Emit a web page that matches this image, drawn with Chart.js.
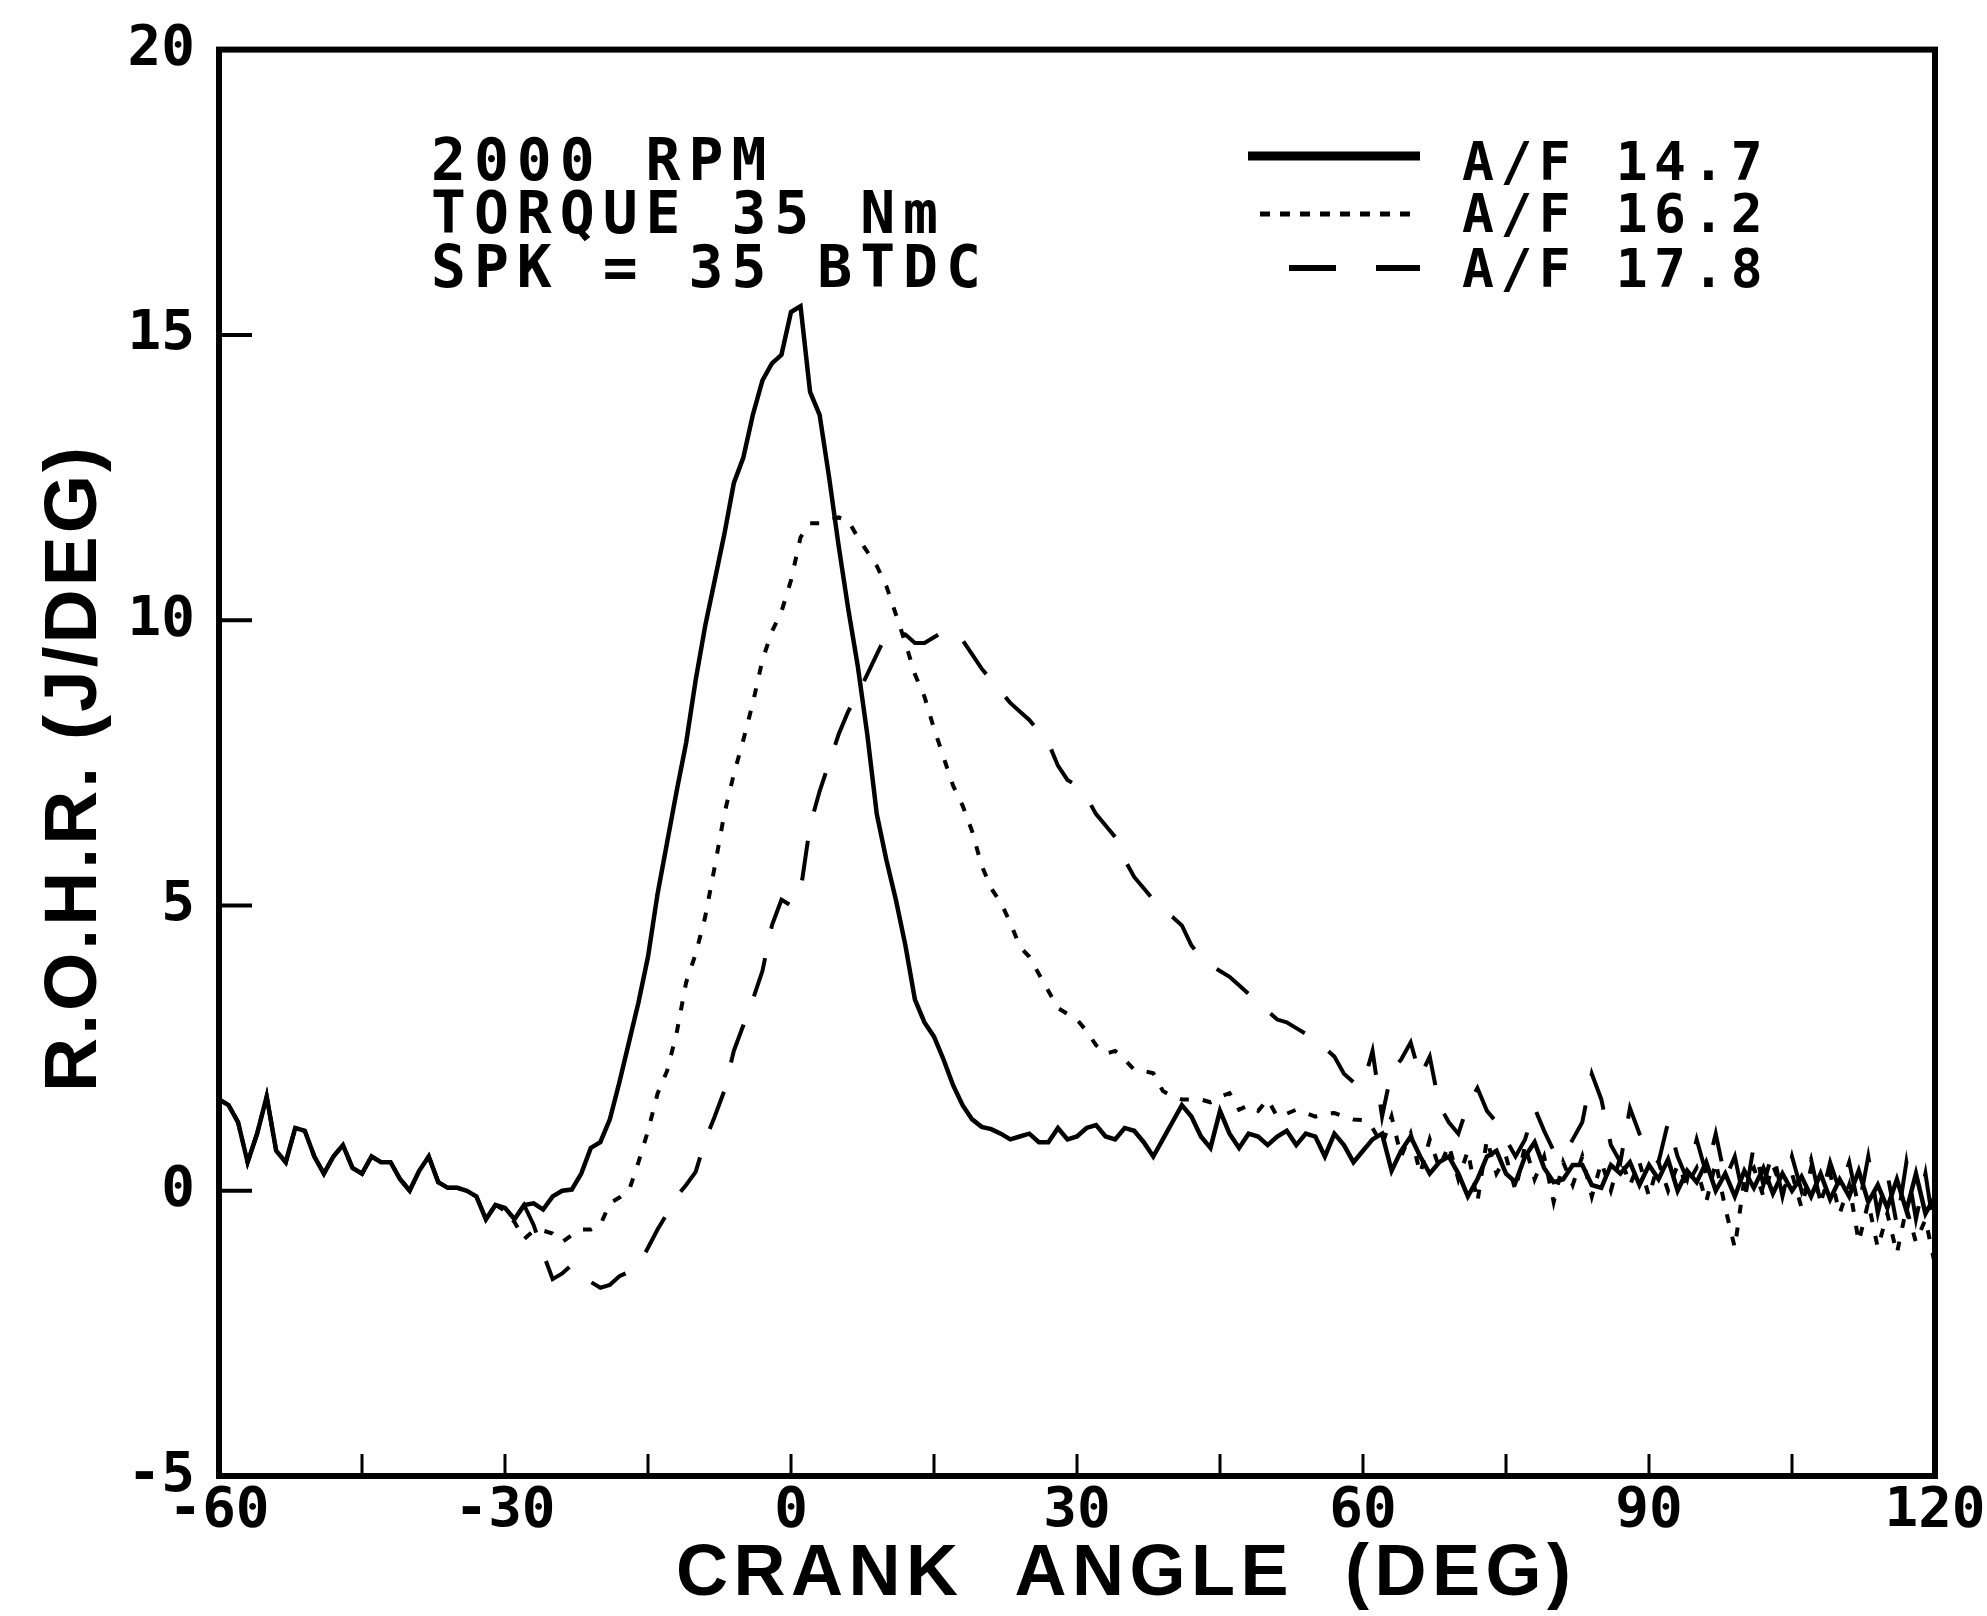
<!DOCTYPE html>
<html lang="en">
<head>
<meta charset="UTF-8">
<title>R.O.H.R. vs Crank Angle</title>
<script src="https://cdn.jsdelivr.net/npm/chart.js"></script>
<style>
    html, body { margin: 0; padding: 0; background: #fff; }
    .chart-box { width: 1987px; height: 1616px; position: relative; }
</style>
</head>
<body>
<div class="chart-box">
    <canvas id="rohrChart"></canvas>
</div>
<script>
    // crank angle (deg), one reading per degree
    var crankAngle = [
        -60, -59, -58, -57, -56, -55, -54, -53, -52, -51,
        -50, -49, -48, -47, -46, -45, -44, -43, -42, -41,
        -40, -39, -38, -37, -36, -35, -34, -33, -32, -31,
        -30, -29, -28, -27, -26, -25, -24, -23, -22, -21,
        -20, -19, -18, -17, -16, -15, -14, -13, -12, -11,
        -10, -9, -8, -7, -6, -5, -4, -3, -2, -1,
        0, 1, 2, 3, 4, 5, 6, 7, 8, 9,
        10, 11, 12, 13, 14, 15, 16, 17, 18, 19,
        20, 21, 22, 23, 24, 25, 26, 27, 28, 29,
        30, 31, 32, 33, 34, 35, 36, 37, 38, 39,
        40, 41, 42, 43, 44, 45, 46, 47, 48, 49,
        50, 51, 52, 53, 54, 55, 56, 57, 58, 59,
        60, 61, 62, 63, 64, 65, 66, 67, 68, 69,
        70, 71, 72, 73, 74, 75, 76, 77, 78, 79,
        80, 81, 82, 83, 84, 85, 86, 87, 88, 89,
        90, 91, 92, 93, 94, 95, 96, 97, 98, 99,
        100, 101, 102, 103, 104, 105, 106, 107, 108, 109,
        110, 111, 112, 113, 114, 115, 116, 117, 118, 119,
        120
    ];

    // R.O.H.R. (J/deg), A/F 14.7 - solid
    var rohrAF147 = [
        1.6, 1.5, 1.2, 0.5, 1.0, 1.65, 0.7, 0.5, 1.1, 1.05,
        0.6, 0.3, 0.6, 0.8, 0.4, 0.3, 0.6, 0.5, 0.5, 0.2,
        0.0, 0.35, 0.6, 0.15, 0.05, 0.05, 0.0, -0.1, -0.5, -0.25,
        -0.3, -0.5, -0.25, -0.22, -0.33, -0.1, 0.0, 0.02, 0.3, 0.75,
        0.85, 1.25, 1.9, 2.6, 3.3, 4.1, 5.2, 6.1, 7.0, 7.85,
        8.95, 9.9, 10.7, 11.5, 12.4, 12.85, 13.6, 14.2, 14.5, 14.65,
        15.4, 15.5, 14.0, 13.6, 12.5, 11.3, 10.2, 9.2, 8.0, 6.6,
        5.8, 5.1, 4.3, 3.35, 2.95, 2.7, 2.3, 1.85, 1.5, 1.25,
        1.12, 1.08, 1.0, 0.9, 0.95, 1.0, 0.85, 0.85, 1.1, 0.9,
        0.95, 1.1, 1.15, 0.95, 0.9, 1.1, 1.05, 0.85, 0.6, 0.9,
        1.2, 1.5, 1.3, 0.95, 0.75, 1.4, 1.0, 0.75, 1.0, 0.95,
        0.8, 0.95, 1.05, 0.8, 1.0, 0.95, 0.6, 1.0, 0.8, 0.5,
        0.7, 0.9, 1.0, 0.35, 0.7, 0.95, 0.6, 0.3, 0.5, 0.6,
        0.3, -0.1, 0.2, 0.6, 0.7, 0.3, 0.15, 0.6, 0.85, 0.4,
        0.15, 0.2, 0.45, 0.45, 0.1, 0.05, 0.45, 0.3, 0.5, 0.1,
        0.45, 0.2, 0.55, 0.0, 0.35, 0.15, 0.5, 0.0, 0.3, -0.1,
        0.35, 0.05, 0.4, -0.05, 0.3, 0.0, 0.25, -0.1, 0.3, -0.15,
        0.2, -0.1, 0.35, -0.2, 0.1, -0.3, 0.2, -0.35, 0.3, -0.4,
        -0.1
    ];

    // A/F 16.2 - dotted
    var rohrAF162 = [
        1.6, 1.5, 1.2, 0.5, 1.0, 1.65, 0.7, 0.5, 1.1, 1.05,
        0.6, 0.3, 0.6, 0.8, 0.4, 0.3, 0.6, 0.5, 0.5, 0.2,
        0.0, 0.35, 0.6, 0.15, 0.05, 0.05, 0.0, -0.1, -0.5, -0.25,
        -0.35, -0.55, -0.85, -0.7, -0.7, -0.75, -0.9, -0.78, -0.68, -0.68,
        -0.6, -0.22, -0.12, 0.0, 0.5, 1.05, 1.7, 2.1, 2.76, 3.65,
        4.15, 4.8, 5.68, 6.6, 7.3, 7.9, 8.55, 9.3, 9.8, 10.15,
        10.7, 11.45, 11.7, 11.7, 11.75, 11.8, 11.75, 11.45, 11.2, 10.95,
        10.6, 10.1, 9.6, 9.05, 8.66, 8.1, 7.6, 7.1, 6.75, 6.3,
        5.7, 5.3, 5.05, 4.7, 4.28, 4.1, 3.8, 3.5, 3.2, 3.1,
        3.0, 2.8, 2.55, 2.4, 2.45, 2.3, 2.12, 2.1, 2.06, 1.75,
        1.65, 1.6, 1.6, 1.6, 1.55, 1.65, 1.71, 1.42, 1.5, 1.4,
        1.6, 1.3, 1.35, 1.42, 1.36, 1.3, 1.35, 1.36, 1.3, 1.25,
        1.24, 1.1, 0.8, 1.3, 0.6, 1.0, 0.3, 0.9, 0.4, 0.8,
        0.2, 0.7, -0.2, 0.9, 0.3, 0.6, 0.0, 0.8, 0.2, 0.6,
        -0.2, 0.5, 0.1, 0.6, -0.1, 0.5, 0.0, 0.6, 0.1, 0.5,
        -0.1, 0.5, 0.0, 0.45, 0.1, 0.4, -0.2, 0.5, -0.3, -1.0,
        0.2, 0.4, -0.1, 0.45, 0.0, 0.3, -0.3, 0.4, -0.2, 0.3,
        -0.4, 0.1, -0.9, -0.2, -1.0, -0.4, -1.1, -0.3, -0.9, -0.5,
        -1.3
    ];

    // A/F 17.8 - dashed
    var rohrAF178 = [
        1.6, 1.5, 1.2, 0.5, 1.0, 1.65, 0.7, 0.5, 1.1, 1.05,
        0.6, 0.3, 0.6, 0.8, 0.4, 0.3, 0.6, 0.5, 0.5, 0.2,
        0.0, 0.35, 0.6, 0.15, 0.05, 0.05, 0.0, -0.1, -0.5, -0.25,
        -0.3, -0.5, -0.25, -0.6, -1.1, -1.55, -1.45, -1.3, -1.5, -1.6,
        -1.7, -1.65, -1.5, -1.42, -1.3, -1.0, -0.68, -0.4, -0.1, 0.1,
        0.33, 0.88, 1.3, 1.75, 2.45, 2.9, 3.35, 3.85, 4.65, 5.1,
        5.0, 5.25, 6.4, 7.0, 7.5, 8.0, 8.4, 8.7, 9.05, 9.4,
        9.75, 9.8, 9.75, 9.6, 9.6, 9.7, 9.8, 9.8, 9.65, 9.4,
        9.15, 8.95, 8.75, 8.55, 8.4, 8.25, 8.05, 7.85, 7.45, 7.2,
        7.1, 6.9, 6.6, 6.4, 6.2, 5.8, 5.5, 5.3, 5.1, 4.9,
        4.8, 4.65, 4.3, 4.1, 3.95, 3.85, 3.75, 3.6, 3.45, 3.3,
        3.15, 3.0, 2.95, 2.85, 2.75, 2.6, 2.5, 2.35, 2.05, 1.9,
        1.85, 2.45, 1.3, 2.1, 2.3, 2.6, 2.0, 2.35, 1.5, 1.2,
        1.0, 1.5, 1.8, 1.4, 1.2, 0.9, 0.6, 0.9, 1.45, 1.05,
        0.7, 0.6, 0.9, 1.2, 2.05, 1.6, 0.8, 0.5, 1.45, 1.0,
        0.7, 0.5, 1.2, 0.6, 0.2, 0.9, 0.3, 1.0, 0.2, 0.6,
        -0.2, 0.8, 0.1, 0.7, -0.1, 0.6, 0.0, 0.55, -0.2, 0.5,
        0.0, 0.5, -0.3, 0.6, -0.4, 0.3, -0.6, 0.5, -0.5, 0.3,
        -0.8
    ];

    var xTickLabels = [-60, -30, 0, 30, 60, 90, 120];
    var yTickLabels = [-5, 0, 5, 10, 15, 20];
    var xTickMarks = [-45, -30, -15, 0, 15, 30, 45, 60, 75, 90, 105];
    var yTickMarks = [0, 5, 10, 15];
    var seriesLabels = ['A/F 14.7', 'A/F 16.2', 'A/F 17.8'];
    var noteLines = ['2000 RPM', 'TORQUE 35 Nm', 'SPK = 35 BTDC'];

    function toPoints(values) {
        return crankAngle.map(function (a, i) { return { x: a, y: values[i] }; });
    }

    // draws the box, inward ticks, titles, notes and the legend
    var plotDecor = {
        id: 'plotDecor',
        afterDatasetsDraw: function (chart) {
            var ctx = chart.ctx;
            var a = chart.chartArea;
            var xs = chart.scales.x;
            var ys = chart.scales.y;
            ctx.save();
            ctx.strokeStyle = '#000';
            ctx.fillStyle = '#000';
            ctx.setLineDash([]);

            ctx.lineWidth = 3;
            xTickMarks.forEach(function (v) {
                var px = xs.getPixelForValue(v);
                ctx.beginPath();
                ctx.moveTo(px, a.bottom);
                ctx.lineTo(px, a.bottom - 22);
                ctx.stroke();
            });
            ctx.lineWidth = 4;
            yTickMarks.forEach(function (v) {
                var py = ys.getPixelForValue(v);
                ctx.beginPath();
                ctx.moveTo(a.left, py);
                ctx.lineTo(a.left + 33, py);
                ctx.stroke();
            });

            ctx.lineWidth = 6;
            ctx.strokeRect(a.left, a.top, a.right - a.left, a.bottom - a.top);

            // notes, top left
            ctx.font = 'bold 58px "DejaVu Sans Mono"';
            ctx.letterSpacing = '8px';
            ctx.textAlign = 'left';
            ctx.textBaseline = 'alphabetic';
            var noteY = [180, 233, 287];
            noteLines.forEach(function (t, i) { ctx.fillText(t, 431, noteY[i]); });

            // legend
            ctx.font = 'bold 53px "DejaVu Sans Mono"';
            ctx.letterSpacing = '6.5px';
            var legY = [180, 232, 287];
            var sampleY = [156, 214, 268];
            var sampleDash = [[], [10, 10], [47, 40]];
            var sampleWidth = [9, 5, 6];
            seriesLabels.forEach(function (t, i) {
                ctx.fillText(t, 1462, legY[i]);
                ctx.save();
                ctx.lineWidth = sampleWidth[i];
                ctx.setLineDash(sampleDash[i]);
                var x0 = i === 2 ? 1289 : (i === 1 ? 1260 : 1248);
                ctx.beginPath();
                ctx.moveTo(x0, sampleY[i]);
                ctx.lineTo(1420, sampleY[i]);
                ctx.stroke();
                ctx.restore();
            });

            // axis titles
            ctx.font = 'bold 72px "Liberation Sans"';
            ctx.letterSpacing = '5.5px';
            ctx.fillText('CRANK  ANGLE  (DEG)', 676, 1595);

            ctx.font = 'bold 75px "Liberation Sans"';
            ctx.letterSpacing = '3px';
            ctx.translate(96, 1092);
            ctx.rotate(-Math.PI / 2);
            ctx.fillText('R.O.H.R. (J/DEG)', 0, 0);
            ctx.restore();
        }
    };

    var ctx = document.getElementById('rohrChart').getContext('2d');
    var chart = new Chart(ctx, {
        type: 'line',
        data: {
            datasets: [{
                label: seriesLabels[0],
                data: toPoints(rohrAF147),
                borderColor: '#000',
                borderWidth: 4.5,
                pointRadius: 0,
                tension: 0
            }, {
                label: seriesLabels[1],
                data: toPoints(rohrAF162),
                borderColor: '#000',
                borderWidth: 4,
                borderDash: [9, 14],
                pointRadius: 0,
                tension: 0
            }, {
                label: seriesLabels[2],
                data: toPoints(rohrAF178),
                borderColor: '#000',
                borderWidth: 4,
                borderDash: [40, 30],
                pointRadius: 0,
                tension: 0
            }]
        },
        options: {
            responsive: true,
            maintainAspectRatio: false,
            animation: false,
            devicePixelRatio: 1,
            layout: { padding: { left: 0, top: 49, right: 52, bottom: 0 } },
            scales: {
                x: {
                    type: 'linear',
                    min: -60,
                    max: 120,
                    grid: { display: false },
                    border: { display: false },
                    afterBuildTicks: function (scale) {
                        scale.ticks = xTickLabels.map(function (v) { return { value: v }; });
                    },
                    afterFit: function (scale) { scale.height = 140; },
                    ticks: {
                        color: '#000',
                        maxRotation: 0,
                        autoSkip: false,
                        padding: -6,
                        font: { family: 'DejaVu Sans Mono', size: 56, weight: 'bold' }
                    }
                },
                y: {
                    min: -5,
                    max: 20,
                    grid: { display: false },
                    border: { display: false },
                    afterBuildTicks: function (scale) {
                        scale.ticks = yTickLabels.map(function (v) { return { value: v }; });
                    },
                    afterFit: function (scale) { scale.width = 219; },
                    ticks: {
                        color: '#000',
                        padding: 16,
                        font: { family: 'DejaVu Sans Mono', size: 56, weight: 'bold' }
                    }
                }
            },
            plugins: {
                legend: { display: false },
                tooltip: { enabled: false }
            }
        },
        plugins: [plotDecor]
    });
</script>
</body>
</html>
